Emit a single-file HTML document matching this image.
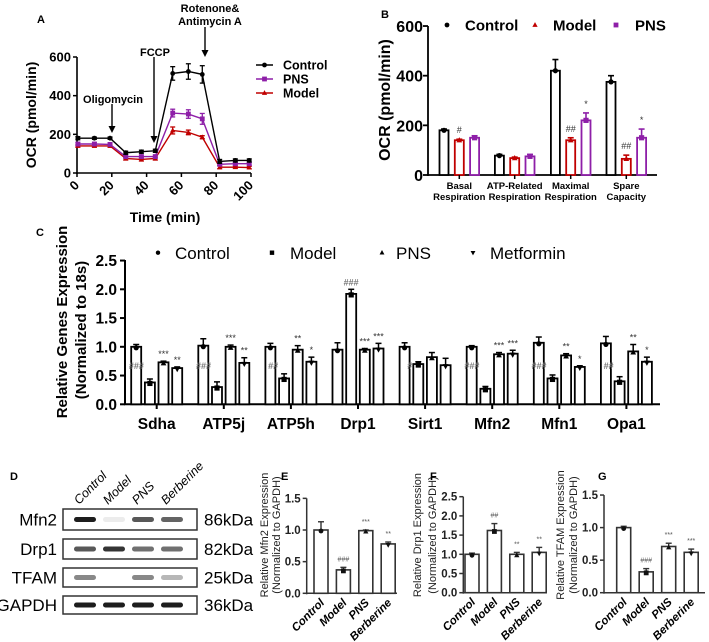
<!DOCTYPE html>
<html><head><meta charset="utf-8"><style>
html,body{margin:0;padding:0;background:#fff;}
svg{display:block;font-family:"Liberation Sans",Arial,sans-serif;}
</style></head><body>
<svg id="fig" width="709" height="642" viewBox="0 0 709 642" xmlns="http://www.w3.org/2000/svg">
<rect width="709" height="642" fill="#fff"/>
</svg>
<script>
// ---------- Panel A data ----------
const timesA = [0.5,10,19,28,37,45,55,64,72,82,91,99];
const ctrlA  = [180,180,180,105,110,115,515,525,510,60,65,65];
const ctrlAErr = [8,6,6,8,8,8,35,40,45,10,8,8];
const pnsA   = [150,150,148,85,85,85,310,305,280,45,48,48];
const pnsAErr = [8,8,8,8,8,8,20,22,28,8,8,8];
const modelA = [140,140,140,75,70,75,220,210,185,30,30,28];
const modelAErr = [6,6,6,8,8,8,18,12,8,8,6,6];
const xTicksA = [0,20,40,60,80,100];
const yTicksA = [0,200,400,600];
// ---------- Panel B data ----------
const catsB = [["Basal","Respiration"],["ATP-Related","Respiration"],["Maximal","Respiration"],["Spare","Capacity"]];
const ctrlB = [180,78,420,375];
const ctrlBErr = [5,5,45,25];
const modelB = [140,68,140,65];
const modelBErr = [4,4,10,15];
const pnsB = [150,75,220,150];
const pnsBErr = [8,8,30,35];
const sigModelB = ["#","","##","##"];
const sigPnsB = ["","","*","*"];
const yTicksB = [0,200,400,600];
// ---------- Panel C data ----------
const genesC = ["Sdha","ATP5j","ATP5h","Drp1","Sirt1","Mfn2","Mfn1","Opa1"];
const ctrlC  = [1.0,1.02,1.0,0.95,1.0,1.0,1.07,1.06];
const modelC = [0.38,0.30,0.45,1.92,0.70,0.27,0.45,0.40];
const pnsC   = [0.73,1.0,0.95,0.95,0.82,0.87,0.85,0.92];
const metC   = [0.63,0.72,0.74,0.97,0.68,0.88,0.65,0.74];
const ctrlCErr  = [0.04,0.12,0.06,0.12,0.07,0.02,0.1,0.12];
const modelCErr = [0.06,0.09,0.08,0.08,0.04,0.04,0.06,0.08];
const pnsCErr   = [0.02,0.03,0.07,0.02,0.08,0.03,0.03,0.12];
const metCErr   = [0.02,0.09,0.08,0.09,0.12,0.06,0.02,0.08];
const sigModelC = ["###","###","##","###","#","###","###","##"];
const sigPnsC   = ["***","***","**","***","","***","**","**"];
const sigMetC   = ["**","**","*","***","","***","*","*"];
const yTicksC = [0,0.5,1.0,1.5,2.0,2.5];
// ---------- Panel D data ----------
const lanesD = ["Control","Model","PNS","Berberine"];
const proteinsD = ["Mfn2","Drp1","TFAM","GAPDH"];
const kdaD = ["86kDa","82kDa","25kDa","36kDa"];
const bandMfn2 = [0.95,0.08,0.7,0.65];
const bandDrp1 = [0.7,0.85,0.6,0.6];
const bandTFAM = [0.5,0.0,0.5,0.3];
const bandGAPDH = [0.95,0.95,0.95,0.95];
// ---------- Panels E/F/G data ----------
const groupsEFG = ["Control","Model","PNS","Berberine"];
const valsE = [1.0,0.37,0.99,0.78];
const errE  = [0.13,0.04,0.01,0.03];
const sigE  = ["","###","***","**"];
const valsF = [1.0,1.62,1.0,1.05];
const errF  = [0.03,0.18,0.05,0.13];
const sigF  = ["","##","**","**"];
const valsG = [1.0,0.32,0.71,0.62];
const errG  = [0.02,0.05,0.05,0.05];
const sigG  = ["","###","***","***"];
const yTicksE = [0,0.5,1.0,1.5];
const yTicksF = [0,0.5,1.0,1.5,2.0,2.5];
const yTicksG = [0,0.5,1.0,1.5];

const NS="http://www.w3.org/2000/svg";
const svg=document.getElementById('fig');
function mk(tag,attrs,parent){const e=document.createElementNS(NS,tag);for(const k in attrs)e.setAttribute(k,attrs[k]);(parent||svg).appendChild(e);return e;}
function txt(s,x,y,attrs,parent){const e=mk('text',Object.assign({x:x,y:y},attrs||{}),parent);e.textContent=s;return e;}
function marker(shape,x,y,s,color,parent){
  let e;
  if(shape==='circle') e=mk('circle',{cx:x,cy:y,r:s,fill:color},parent);
  else if(shape==='square') e=mk('rect',{x:x-s,y:y-s,width:2*s,height:2*s,fill:color},parent);
  else if(shape==='tri') e=mk('polygon',{points:`${x},${y-s*1.2} ${x-s*1.1},${y+s*0.8} ${x+s*1.1},${y+s*0.8}`,fill:color},parent);
  else e=mk('polygon',{points:`${x},${y+s*1.2} ${x-s*1.1},${y-s*0.8} ${x+s*1.1},${y-s*0.8}`,fill:color},parent);
  return e;
}
function panelLabel(s,x,y){const t=txt(s,x,y,{'font-size':'11','font-weight':'bold'});

}

// ================= PANEL A =================
(function(){
  const g=mk('g',{});
  
  
  panelLabel('A',37,23);
  const X=t=>77+t*1.74, Y=v=>173-v*116/600;
  mk('line',{x1:77,y1:57,x2:77,y2:174,stroke:'#000','stroke-width':1.6},g);
  mk('line',{x1:76,y1:173,x2:251,y2:173,stroke:'#000','stroke-width':1.6},g);
  yTicksA.forEach(v=>{mk('line',{x1:73,y1:Y(v),x2:77,y2:Y(v),stroke:'#000','stroke-width':1.5},g);
    const t=txt(String(v),71,Y(v)+4.5,{'font-size':'13','font-weight':'bold','text-anchor':'end'},g);
    
    });
  xTicksA.forEach(v=>{mk('line',{x1:X(v),y1:173,x2:X(v),y2:177,stroke:'#000','stroke-width':1.5},g);
    const t=txt(String(v),X(v)+3,186,{'font-size':'13','font-weight':'bold','text-anchor':'end',transform:`rotate(-45 ${X(v)+3} 186)`},g);
    
    });
  const xt=txt('Time (min)',165,222,{'font-size':'14','font-weight':'bold','text-anchor':'middle'},g);
  
  
  const yt=txt('OCR (pmol/min)',36,115,{'font-size':'14','font-weight':'bold','text-anchor':'middle',transform:'rotate(-90 36 115)'},g);
  
  
  const series=[[modelA,modelAErr,'#c00000','tri','model'],[pnsA,pnsAErr,'#8e1fa8','square','pns'],[ctrlA,ctrlAErr,'#000','circle','control']];
  series.forEach(([vals,err,c,sh,nm])=>{
    const pts=vals.map((v,i)=>X(timesA[i])+','+Y(v)).join(' ');
    const pl=mk('polyline',{points:pts,fill:'none',stroke:c,'stroke-width':1.4},g);
    
    
    vals.forEach((v,i)=>{const x=X(timesA[i]);
      mk('line',{x1:x,y1:Y(v+err[i]),x2:x,y2:Y(v-err[i]),stroke:c,'stroke-width':1.3},g);
      mk('line',{x1:x-2.5,y1:Y(v+err[i]),x2:x+2.5,y2:Y(v+err[i]),stroke:c,'stroke-width':1.3},g);
      mk('line',{x1:x-2.5,y1:Y(v-err[i]),x2:x+2.5,y2:Y(v-err[i]),stroke:c,'stroke-width':1.3},g);
      const m=marker(sh,x,Y(v),2.4,c,g);
      
      });
  });
  function arrow(x,y1,y2){mk('line',{x1:x,y1:y1,x2:x,y2:y2-5,stroke:'#000','stroke-width':1.4},g);
    mk('polygon',{points:`${x-3.5},${y2-7} ${x+3.5},${y2-7} ${x},${y2}`,fill:'#000'},g);}
  arrow(112,104,133); arrow(154,57,143); arrow(205,27,57);
  [['Oligomycin',113,103],['FCCP',155,56],['Rotenone&',210,12],['Antimycin A',210,25]].forEach(([s,x,y])=>{
    const t=txt(s,x,y,{'font-size':'11','font-weight':'bold','text-anchor':'middle'},g);
    
    });
  [['Control','#000','circle',65],['PNS','#8e1fa8','square',79],['Model','#c00000','tri',93]].forEach(([s,c,sh,y])=>{
    const lg=mk('g',{},g);
    
    
    mk('line',{x1:256,y1:y,x2:273,y2:y,stroke:c,'stroke-width':1.4},lg);
    marker(sh,264.5,y,2.4,c,lg);
    txt(s,283,y+4.5,{'font-size':'12.5','font-weight':'bold'},lg);});
})();

// ================= PANEL B =================
(function(){
  const g=mk('g',{});
  
  
  panelLabel('B',381,18);
  const Y=v=>175-v*0.2483, centers=[459.3,514.7,570.7,626.3], off=[-15.3,0,15.3], bw=9;
  mk('line',{x1:428,y1:26,x2:428,y2:176,stroke:'#000','stroke-width':1.8},g);
  mk('line',{x1:427,y1:175,x2:657,y2:175,stroke:'#000','stroke-width':1.8},g);
  yTicksB.forEach(v=>{mk('line',{x1:423,y1:Y(v),x2:428,y2:Y(v),stroke:'#000','stroke-width':1.8},g);
    const t=txt(String(v),423,Y(v)+6,{'font-size':'16','font-weight':'bold','text-anchor':'end'},g);
    
    });
  const yt=txt('OCR (pmol/min)',390,100,{'font-size':'16','font-weight':'bold','text-anchor':'middle',transform:'rotate(-90 390 100)'},g);
  
  
  const ser=[[ctrlB,ctrlBErr,'#000','circle','control',null],[modelB,modelBErr,'#c00000','tri','model',sigModelB],[pnsB,pnsBErr,'#8e1fa8','square','pns',sigPnsB]];
  ser.forEach(([vals,err,c,sh,nm,sig],s)=>{
    vals.forEach((v,i)=>{const x=centers[i]+off[s];
      const r=mk('rect',{x:x-bw/2,y:Y(v),width:bw,height:175-Y(v),fill:'#fff',stroke:c,'stroke-width':1.8},g);
      
      
      mk('line',{x1:x,y1:Y(v),x2:x,y2:Y(v+err[i]),stroke:c,'stroke-width':1.6},g);
      mk('line',{x1:x-3,y1:Y(v+err[i]),x2:x+3,y2:Y(v+err[i]),stroke:c,'stroke-width':1.6},g);
      marker(sh,x,Y(v),2.6,c,g);
      if(sig&&sig[i]){const t=txt(sig[i],x,Y(v+err[i])-6,{'font-size':'9','text-anchor':'middle',fill:'#333'},g);
        
        }
    });});
  catsB.forEach((c,i)=>{[0,1].forEach(k=>{const t=txt(c[k],centers[i],189+k*11,{'font-size':'9.5','font-weight':'bold','text-anchor':'middle'},g);
    
    });
    mk('line',{x1:centers[i],y1:175,x2:centers[i],y2:179,stroke:'#000','stroke-width':1.5},g);});
  [['Control','#000','circle',447,465],['Model','#c00000','tri',535,553],['PNS','#8e1fa8','square',616,635]].forEach(([s,c,sh,mx,tx])=>{
    const lg=mk('g',{},g);
    
    
    marker(sh,mx,25,2.4,c,lg);
    txt(s,tx,30.5,{'font-size':'15','font-weight':'bold'},lg);});
})();

// ================= PANEL C =================
(function(){
  const g=mk('g',{});
  
  
  panelLabel('C',36,236);
  const Y=v=>404.3-v*57.5, GX=i=>156.7+i*67.1, off=[-20.5,-6.8,6.8,20.5], bw=10;
  mk('line',{x1:125,y1:260,x2:125,y2:405,stroke:'#000','stroke-width':2},g);
  mk('line',{x1:124,y1:404.3,x2:660,y2:404.3,stroke:'#000','stroke-width':2},g);
  yTicksC.forEach(v=>{mk('line',{x1:120,y1:Y(v),x2:125,y2:Y(v),stroke:'#000','stroke-width':2},g);
    const t=txt(v.toFixed(1),117,Y(v)+5.5,{'font-size':'15.5','font-weight':'bold','text-anchor':'end'},g);
    
    });
  const y1=txt('Relative Genes Expression',67,322,{'font-size':'15','font-weight':'bold','text-anchor':'middle',transform:'rotate(-90 67 322)'},g);
  
  
  const y2=txt('(Normalized to 18s)',86,330,{'font-size':'15','font-weight':'bold','text-anchor':'middle',transform:'rotate(-90 86 330)'},g);
  
  
  const ser=[[ctrlC,ctrlCErr,'circle','control',null],[modelC,modelCErr,'square','model',sigModelC],[pnsC,pnsCErr,'tri','pns',sigPnsC],[metC,metCErr,'tridown','metformin',sigMetC]];
  genesC.forEach((gn,i)=>{
    mk('line',{x1:GX(i),y1:404,x2:GX(i),y2:409,stroke:'#000','stroke-width':2},g);
    const t=txt(gn,GX(i),429,{'font-size':'15.5','font-weight':'bold','text-anchor':'middle'},g);
    
    });
  ser.forEach(([vals,err,sh,nm,sig],s)=>{
    vals.forEach((v,i)=>{const x=GX(i)+off[s];
      const r=mk('rect',{x:x-bw/2,y:Y(v),width:bw,height:404.3-Y(v),fill:'#fff',stroke:'#000','stroke-width':1.8},g);
      
      
      mk('line',{x1:x,y1:Y(v),x2:x,y2:Y(v+err[i]),stroke:'#000','stroke-width':1.5},g);
      mk('line',{x1:x-3,y1:Y(v+err[i]),x2:x+3,y2:Y(v+err[i]),stroke:'#000','stroke-width':1.5},g);
      marker(sh,x,Y(v)+1,2.6,'#000',g);
      if(sig&&sig[i]){
        let t;
        if(s===1) t=txt(sig[i],x-6,Y(0.68)+4,{'font-size':'9','text-anchor':'end',fill:'#777','font-weight':'bold'},g);
        else t=txt(sig[i],x,Y(v+err[i])-4,{'font-size':'9','text-anchor':'middle',fill:'#333'},g);
        if(s===1&&i===3) t.setAttribute('y',Y(v+err[i])-4),t.setAttribute('x',x),t.setAttribute('text-anchor','middle');
        
        }
    });});
  [['Control','circle',158,175],['Model','square',272,290],['PNS','tri',382,396],['Metformin','tridown',473,490]].forEach(([s,sh,mx,tx])=>{
    const lg=mk('g',{},g);
    
    
    marker(sh,mx,252.7,2.2,'#000',lg);
    txt(s,tx,259,{'font-size':'17'},lg);});
})();

// ================= PANEL D =================
(function(){
  const g=mk('g',{});
  
  
  panelLabel('D',10,480);
  const laneX=[85,114,143,172];
  lanesD.forEach((l,i)=>{const x=laneX[i]-6,y=505;
    const t=txt(l,x,y,{'font-size':'12.5','font-style':'italic',transform:`rotate(-45 ${x} ${y})`},g);
    
    });
  const rows=[[509,530],[539,559],[568,587],[596,614]];
  const bands=[bandMfn2,bandDrp1,bandTFAM,bandGAPDH];
  proteinsD.forEach((p,r)=>{
    const [y1,y2]=rows[r], cy=(y1+y2)/2;
    const box=mk('rect',{x:63,y:y1,width:134,height:y2-y1,fill:'#fff',stroke:'#333','stroke-width':1.5},g);
    
    
    bands[r].forEach((a,i)=>{if(a>0){const b=mk('rect',{x:laneX[i]-11,y:cy-2.5,width:22,height:5,rx:2.5,fill:'#111','fill-opacity':a},g);
      
      }});
    const lt=txt(p,57,cy+6,{'font-size':'17','text-anchor':'end'},g);
    
    
    const kt=txt(kdaD[r],204,cy+6,{'font-size':'17'},g);
    
    
  });
})();

// ================= PANELS E / F / G =================
function smallBar(name,label,lx,axisX,axisEnd,y0,unit,ticks,vals,errs,sigs,cx0,sp,bw,ylab,tx1,tx2){
  const g=mk('g',{});
  
  
  panelLabel(label,lx,480);
  const Y=v=>y0-v*unit, top=Y(ticks[ticks.length-1]);
  mk('line',{x1:axisX,y1:top,x2:axisX,y2:y0+1,stroke:'#333','stroke-width':1.5},g);
  mk('line',{x1:axisX-1,y1:y0,x2:axisEnd,y2:y0,stroke:'#333','stroke-width':1.5},g);
  ticks.forEach(v=>{mk('line',{x1:axisX-4,y1:Y(v),x2:axisX,y2:Y(v),stroke:'#333','stroke-width':1.5},g);
    const t=txt(v.toFixed(1),axisX-6,Y(v)+4,{'font-size':'11.5','font-weight':'bold','text-anchor':'end',fill:'#222'},g);
    
    });
  const shapes=['circle','square','tri','tridown'];
  vals.forEach((v,i)=>{const x=cx0+i*sp;
    const r=mk('rect',{x:x-bw/2,y:Y(v),width:bw,height:y0-Y(v),fill:'#fff',stroke:'#333','stroke-width':1.6},g);
    
    
    mk('line',{x1:x,y1:Y(v),x2:x,y2:Y(v+errs[i]),stroke:'#333','stroke-width':1.4},g);
    mk('line',{x1:x-3,y1:Y(v+errs[i]),x2:x+3,y2:Y(v+errs[i]),stroke:'#333','stroke-width':1.4},g);
    marker(shapes[i],x,Y(v)+1,2.4,'#111',g);
    if(sigs[i]){const t=txt(sigs[i],x,Y(v+errs[i])-6,{'font-size':'7','text-anchor':'middle',fill:'#555'},g);
      
      }
    const cl=txt(groupsEFG[i],x+4,y0+10,{'font-size':'11.5','font-weight':'bold','font-style':'italic','text-anchor':'end',transform:`rotate(-45 ${x+4} ${y0+10})`},g);
    
    
  });
  const a=txt(ylab,tx1,535,{'font-size':'11','text-anchor':'middle',fill:'#222',transform:`rotate(-90 ${tx1} 535)`},g);
  
  
  const b=txt('(Normalized to GAPDH)',tx2,535,{'font-size':'11','text-anchor':'middle',fill:'#222',transform:`rotate(-90 ${tx2} 535)`},g);
  
  
}
smallBar('panel-e-bar-chart','E',281,306.7,397,593.3,63.3,yTicksE,valsE,errE,sigE,321,22.4,14,'Relative Mfn2 Expression',268,280);
smallBar('panel-f-bar-chart','F',430,463.3,547,592.7,38.4,yTicksF,valsF,errF,sigF,472,22.4,14,'Relative Drp1 Expression',421,436);
smallBar('panel-g-bar-chart','G',598,604,705,592.7,65.1,yTicksG,valsG,errG,sigG,623.7,22.5,14,'Relative TFAM Expression',564,577);
</script>
</body></html>
